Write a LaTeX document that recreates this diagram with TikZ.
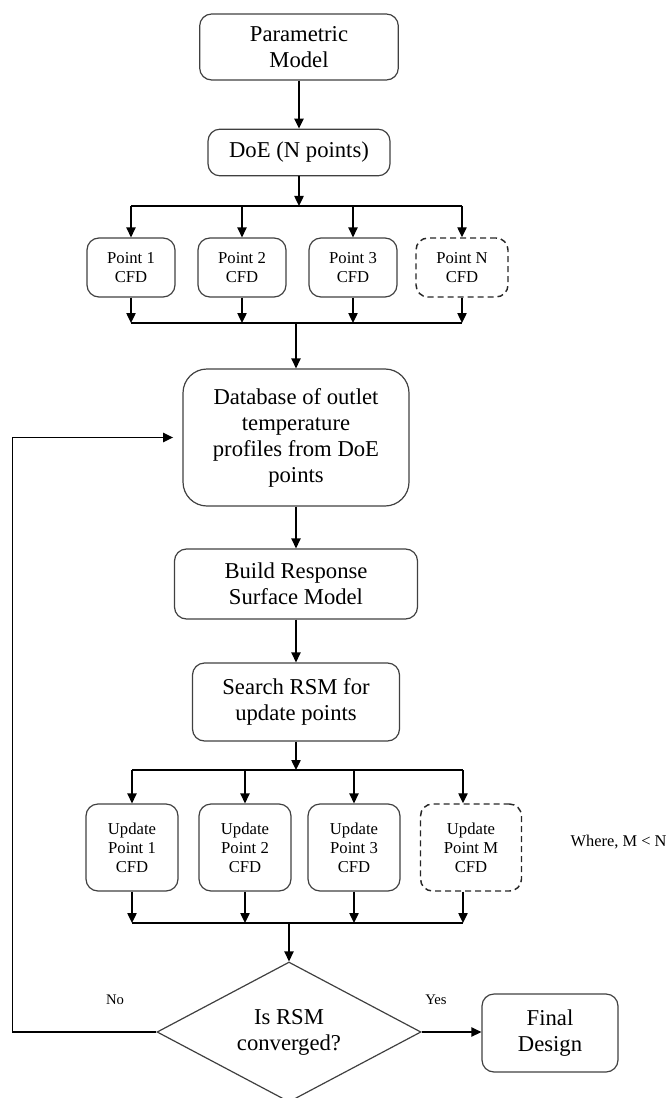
\documentclass[tikz,border=0pt]{standalone}
\usepackage{fontspec}
\setmainfont{Liberation Serif}
\usetikzlibrary{shapes.geometric,arrows.meta}

\begin{document}
\begin{tikzpicture}[x=0.75pt, y=-0.75pt,
  >={Triangle[length=7.5pt,width=7pt]},
  box/.style={draw=black!75, line width=0.9pt, rounded corners=9pt, align=center, inner sep=2pt, font=\fontsize{17}{19.5}\selectfont},
  cfd/.style={draw=black!75, line width=0.9pt, rounded corners=9pt, align=center, inner sep=2pt, font=\fontsize{12.5}{14.3}\selectfont},
  dashbox/.style={draw=black!85, line width=1.1pt, dash pattern=on 4.5pt off 3pt},
  lbl/.style={font=\fontsize{11}{13}\selectfont},
  link/.style={line width=1pt}]
\useasboundingbox (0,0) rectangle (665,1098);
\clip (0,0) rectangle (665,1098);

% main column
\node[box, minimum width=149pt, minimum height=49.5pt] (param) at (299,47) {Parametric\\Model};
\node[box, minimum width=136.5pt, minimum height=35pt] (doe) at (299,152.5) {DoE (N points)};
\draw[link,->] (param) -- (doe);

% DoE points
\coordinate (splitA) at (298,206);
\coordinate (joinA) at (298,323);
\foreach \n/\x in {1/131, 2/242, 3/353}
  \node[cfd, minimum width=66pt, minimum height=44.25pt] (p\n) at (\x,267.5) {Point \n\\CFD};
\node[cfd, dashbox, minimum width=69pt, minimum height=44.25pt] (pN) at (462,267.5) {Point N\\CFD};

\draw[link,->] (doe.south) -- (doe.south |- splitA);
\draw[link] (p1.north |- splitA) -- (pN.north |- splitA);
\draw[link] (p1.south |- joinA) -- (pN.south |- joinA);
\foreach \p in {p1,p2,p3,pN} {
  \draw[link,->] (\p.north |- splitA) -- (\p.north);
  \draw[link,->] (\p.south) -- (\p.south |- joinA);
}

\node[box, minimum width=169.5pt, minimum height=102.75pt, rounded corners=18pt] (db) at (296,437.5) {Database of outlet\\temperature\\profiles from DoE\\points};
\draw[link,->] (db.north |- joinA) -- (db.north);

\node[box, minimum width=182.25pt, minimum height=52.5pt] (build) at (296,584) {Build Response\\Surface Model};
\node[box, minimum width=155.25pt, minimum height=58.5pt] (search) at (296,702) {Search RSM for\\update points};
\draw[link,->] (db.south) -- (build.north);
\draw[link,->] (build.south) -- (search.north);

% update points
\coordinate (splitB) at (296,770);
\coordinate (joinB) at (289,923);
\foreach \n/\x in {1/132, 2/245, 3/354}
  \node[cfd, minimum width=69pt, minimum height=65.25pt] (u\n) at (\x,847.5) {Update\\Point \n\\CFD};
\node[cfd, dashbox, minimum width=75.75pt, minimum height=65.25pt] (uM) at (471,847.5) {Update\\Point M\\CFD};
\coordinate (uMtop) at ([xshift=-6pt]uM.north);
\coordinate (uMbot) at ([xshift=-6pt]uM.south);

\draw[link,->] (search.south) -- (search.south |- splitB);
\draw[link] (u1.north |- splitB) -- (uMtop |- splitB);
\draw[link] (u1.south |- joinB) -- (uMbot |- joinB);
\foreach \p in {u1,u2,u3} {
  \draw[link,->] (\p.north |- splitB) -- (\p.north);
  \draw[link,->] (\p.south) -- (\p.south |- joinB);
}
\draw[link,->] (uMtop |- splitB) -- (uMtop);
\draw[link,->] (uMbot) -- (uMbot |- joinB);
\node[anchor=west, font=\fontsize{12.3}{14}\selectfont] (note) at (566,842) {Where, M < N};

% convergence check
\node[draw=black!75, line width=0.9pt, diamond, aspect=1.886, minimum width=198pt, minimum height=105pt, inner sep=0pt, align=center, font=\fontsize{17}{19.5}\selectfont] (dec) at (289,1032) {Is RSM\\converged?};
\draw[link,->] (dec.north |- joinB) -- (dec.north);

\node[box, minimum width=102pt, minimum height=58.5pt] (final) at (550,1033) {Final\\Design};
\draw[link,->] (dec.east) -- (dec.east -| final.west);
\node[lbl] (yes) at (436,1000) {Yes};

\draw[link,->, shorten >=7pt] (dec.west) -- ++(-144,0) |- (db.west);
\node[lbl] (no) at (115,1000) {No};
\end{tikzpicture}
\end{document}
